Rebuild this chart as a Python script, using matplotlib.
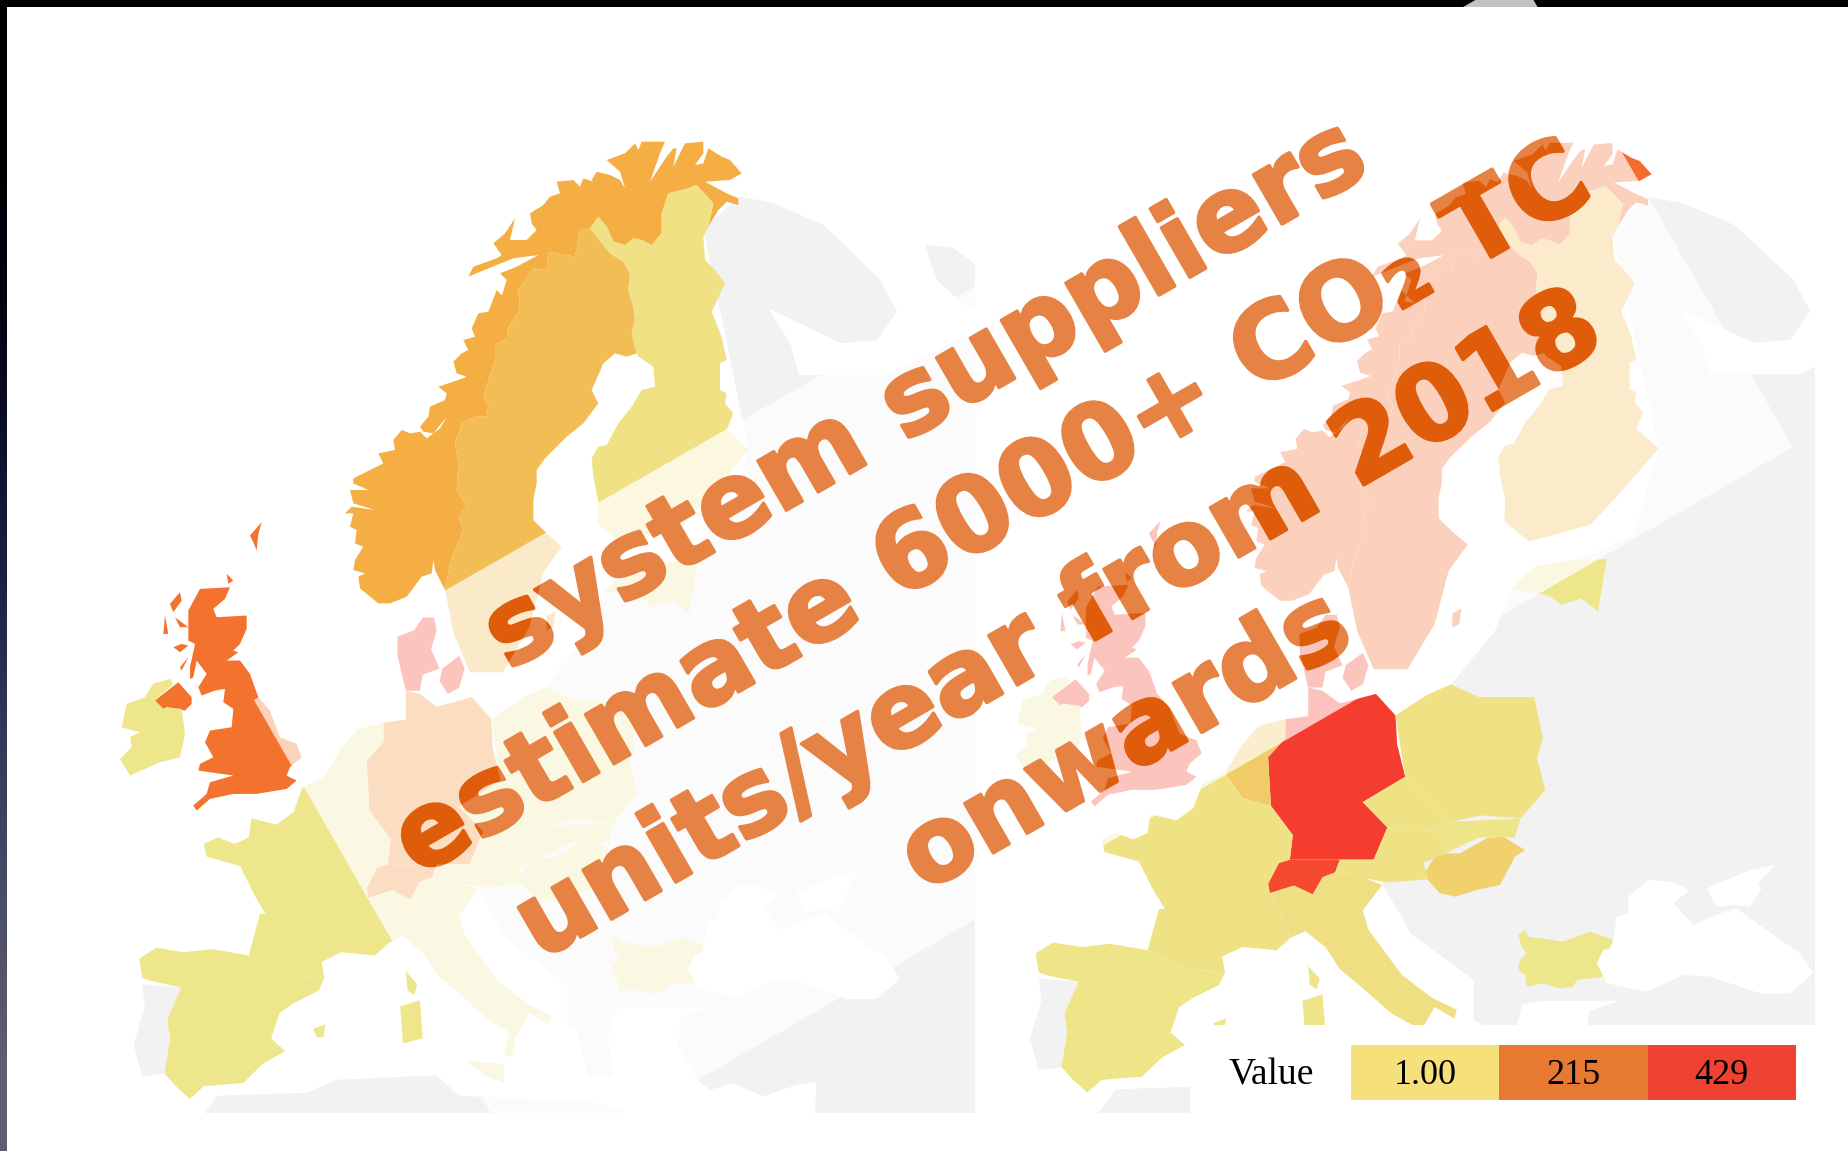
import numpy as np
import matplotlib
matplotlib.use("Agg")
import matplotlib.pyplot as plt
import matplotlib.patheffects as pe
from matplotlib.colors import LinearSegmentedColormap, to_rgb
from matplotlib.patches import Polygon, PathPatch, Rectangle
from matplotlib.path import Path
from matplotlib.transforms import Affine2D


# outlines were traced on three enlarged views, these bring them to map units
def nordic(points):
    return [(427.7 + 0.594 * x, 15.7 + 0.5227 * y) for x, y in points]


def isles(points):
    return [(17.8 + 0.594 * x, 596.7 + 0.5227 * y) for x, y in points]


def balkan(points):
    return [(704.9 + 0.5809 * x, 1104.3 + 0.5268 * y) for x, y in points]


norway = nordic([(115,1420),(60,1375),(55,1340),(75,1330),(40,1320),(45,1290),(70,1250),(45,1240),(50,1200),(30,1190),(40,1150),(15,1150),(35,1130),(105,1140),(40,1120),(30,1080),(85,1080),(40,1060),(40,1045),(110,1010),(130,1000),(115,970),(165,960),(160,930),(185,900),(210,910),(240,905),(260,925),(300,895),(320,860),(280,910),(250,905),(240,890),(265,860),(270,830),(315,810),(320,790),(295,770),(355,750),(380,740),(350,730),(340,695),(365,670),(385,660),(370,630),(405,620),(395,595),(415,550),(445,545),(470,480),(510,520),(480,515),(500,450),(480,430),(530,410),(595,375),(520,385),(445,415),(385,440),(400,410),(470,385),(485,375),(460,340),(495,310),(525,265),(510,330),(560,330),(590,300),(575,280),(570,250),(610,225),(630,200),(660,190),(650,155),(700,150),(720,170),(730,145),(760,155),(790,195),(755,150),(770,125),(810,135),(840,150),(855,175),(840,125),(800,90),(855,70),(885,40),(895,60),(905,35),(975,35),(960,70),(930,155),(980,80),(1000,55),(1010,55),(1000,110),(1035,40),(1090,35),(1090,70),(1065,105),(1090,100),(1105,55),(1145,80),(1170,90),(1205,130),(1170,150),(1095,155),(1160,190),(1195,205),(1195,225),(1160,215),(1135,240),(1105,290),(1120,220),(1070,165),(1045,175),(985,190),(965,250),(965,310),(935,345),(905,330),(880,325),(855,345),(820,335),(800,290),(775,260),(750,295),(720,300),(705,380),(625,365),(620,420),(580,415),(535,480),(540,540),(505,590),(500,625),(465,645),(465,690),(430,800),(445,830),(440,860),(405,860),(365,880),(345,940),(355,1000),(350,1080),(380,1130),(355,1160),(370,1200),(340,1270),(330,1300),(315,1380),(285,1320),(280,1290),(275,1330),(245,1340),(200,1400),(150,1420)])
sweden = nordic([(720,300),(750,295),(810,370),(850,395),(870,430),(865,480),(880,530),(885,570),(875,610),(890,670),(860,680),(825,670),(790,700),(775,735),(755,780),(775,820),(730,880),(680,920),(640,960),(615,985),(590,1020),(590,1060),(580,1110),(580,1170),(620,1210)]) + [(823,669),(790,710),(765,795),(718,866),(659,866),(630,805)] + nordic([(315,1380),(330,1300),(340,1270),(370,1200),(355,1160),(380,1130),(350,1080),(355,1000),(345,940),(365,880),(405,860),(440,860),(445,830),(430,800),(465,690),(465,645),(500,625),(505,590),(540,540),(535,480),(580,415),(620,420),(625,365),(705,380)])
gotland = [(796,778),(812,770),(808,795),(796,800)]
finland = nordic([(750,295),(775,260),(800,290),(820,335),(855,345),(880,325),(905,330),(935,345),(965,310),(965,250),(985,190),(1045,175),(1070,165),(1120,220),(1105,290),(1090,320),(1095,390),(1125,420),(1155,460),(1115,545),(1145,620),(1160,690),(1140,700),(1140,780),(1160,790),(1155,820),(1180,850),(1160,900)]) + [(1156,517),(1084,592),(1036,638),(930,664),(887,633)] + nordic([(775,1115),(760,1040),(755,985),(775,950),(800,945),(835,880),(875,830),(905,780),(945,770),(940,710),(895,680),(890,670),(875,610),(885,570),(880,530),(865,480),(870,430),(850,395),(810,370)])
denmark = [(530,810),(560,800),(575,780),(595,780),(600,800),(590,830),(605,860),(575,870),(570,895),(545,895),(530,840)]
zealand = [(610,860),(640,840),(650,860),(640,890),(620,900),(605,880)]
germany = [(545,895),(570,900),(600,920),(663,905),(697,939),(700,985),(714,1036),(640,1076),(683,1116),(659,1167),(513,1167),(518,1128),(480,1082),(475,1005),(505,975),(505,945),(545,940)]
switzerland = [(513,1167),(600,1167),(592,1187),(570,1195),(553,1222),(520,1208),(478,1220),(475,1205),(494,1172)]
benelux = [(400,1030),(430,985),(460,955),(505,945),(505,975),(475,1005),(480,1082),(430,1070)]
france = [(185,1135),(210,1125),(240,1135),(265,1125),(270,1095),(315,1105),(345,1085),(360,1048),(400,1030),(430,1070),(480,1082),(518,1128),(513,1167),(494,1172),(475,1205),(478,1220),(515,1290),(490,1310),(430,1305),(395,1320),(400,1345),(330,1340),(265,1310),(285,1245),(295,1245),(275,1215),(250,1170),(190,1155)]
spain = [(70,1315),(100,1298),(150,1305),(200,1300),(265,1310),(330,1340),(400,1345),(390,1365),(345,1385),(320,1400),(305,1440),(330,1460),(290,1480),(255,1510),(185,1515),(160,1535),(135,1515),(115,1495),(125,1440),(120,1410),(145,1360),(90,1350),(75,1345)]
majorca = [(380,1425),(402,1418),(398,1438),(386,1438)]
corsica = [(545,1335),(565,1355),(560,1372),(548,1365)]
sardinia = [(535,1390),(570,1380),(575,1440),(540,1448)]
sicily = [(650,1475),(720,1480),(720,1510),(690,1500)]
italy = [(553,1222),(570,1195),(592,1187),(640,1195),(674,1207),(640,1247),(650,1278),(708,1349),(760,1385),(804,1404),(800,1418),(765,1400),(740,1440),(735,1470),(720,1465),(730,1430),(690,1410),(640,1370),(600,1340),(575,1305),(540,1280),(515,1290),(478,1220),(520,1208)]
poland = [(697,939),(755,905),(794,890),(842,910),(939,910),(954,976),(944,1006),(958,1057),(915,1102),(845,1097),(794,1107),(714,1036)]
czechia = [(640,1076),(714,1036),(794,1107),(770,1122),(683,1116)]
slovakia = [(794,1107),(915,1102),(905,1132),(842,1132),(784,1157),(770,1122)]
hungary = balkan([(70,165),(110,100),(180,100),(260,55),(310,50),(375,90),(345,110),(300,195),(230,210),(165,230),(120,220)])
austria = [(659,1167),(683,1116),(770,1122),(784,1157),(746,1172),(755,1198),(680,1203),(592,1187),(600,1167)]
bulgaria = balkan([(355,345),(375,330),(385,350),(490,365),(570,335),(640,360),(630,385),(610,390),(590,430),(610,470),(530,480),(520,500),(480,505),(430,490),(380,500),(375,465),(355,450),(360,420),(380,400),(365,380)])
latvia = [(900,739),(939,704),(997,694),(1065,692),(1050,774),(1021,754),(987,764),(963,749)]
britain = isles([(270,265),(360,260),(345,295),(310,325),(320,350),(410,345),(410,385),(390,430),(370,450),(385,455),(350,480),(390,480),(420,520),(445,590),(480,630),(510,710),(560,730),(575,770),(540,800),(530,825),(560,840),(530,865),(440,880),(370,880),(300,895),(260,930),(250,915),(290,880),(300,845),(370,825),(265,810),(270,790),(310,770),(285,725),(300,690),(365,680),(370,625),(340,605),(345,565),(315,570),(275,585),(265,560),(290,520),(260,480),(250,530),(240,535),(240,500),(255,430),(235,420),(235,330)])
skye = isles([(195,350),(235,380),(210,380)])
harris = isles([(180,310),(210,275),(215,300),(190,335)])
uist = isles([(165,345),(175,400),(160,400)])
mull = isles([(215,430),(235,435),(210,455),(190,440)])
kintyre = isles([(210,500),(235,470),(215,510)])
shetland = isles([(420,105),(455,65),(445,100),(440,150),(430,125)])
orkney = isles([(350,220),(370,240),(355,250)])
n_ireland = isles([(135,600),(205,545),(245,590),(245,610),(225,630),(170,620),(160,625)])
ireland = isles([(105,590),(130,550),(180,535),(190,550),(135,600),(160,625),(170,620),(215,625),(225,700),(210,770),(150,785),(60,825),(30,775),(65,740),(60,710),(90,695),(35,680),(50,610)])

grey_land = [
    [(1075,170),(1140,120),(1200,130),(1290,165),(1390,250),(1420,300),(1385,345),(1320,350),(1250,320),(1190,295),(1230,350),(1245,400),(1400,400),(1540,340),(1700,340),(1700,1600),(1271,1600),(1277,1509),(1241,1513),(1182,1531),(1129,1510),(1087,1521),(1069,1508),(1031,1453),(1034,1406),(1087,1390),(1034,1390),(956,1390),(918,1395),(905,1440),(915,1500),(870,1500),(850,1428),(833,1420),(833,1357),(763,1310),(722,1283),(705,1252),(674,1207),(794,1100),(794,890),(871,805),(900,739),(1113,653),(1156,517)],
    [(1470,195),(1520,200),(1580,240),(1700,250),(1700,330),(1620,330),(1540,290),(1490,250)],
    [(75,1355),(145,1360),(120,1410),(125,1440),(115,1495),(75,1500),(60,1450),(80,1390)],
    [(150,1600),(210,1530),(370,1525),(420,1505),(600,1498),(640,1530),(760,1535),(880,1540),(940,1557),(940,1600)],
]
black_sea = balkan([(640,360),(650,290),(685,280),(685,230),(745,180),(810,185),(870,210),(820,250),(880,315),(960,280),(1010,265),(1050,295),(1200,400),(1240,460),(1170,520),(1080,520),(930,470),(850,465),(740,515),(620,490),(590,430),(610,390)])
azov = balkan([(920,205),(1050,150),(1125,135),(1075,190),(1085,205),(1050,260),(1000,255),(950,260)])

# country shapes and the value each map gives them
shapes = [norway, sweden, gotland, finland, denmark, zealand, germany, switzerland, benelux,
          france, spain, majorca, corsica, sardinia, sicily, italy, poland, czechia, slovakia,
          hungary, austria, bulgaria, latvia, britain, skye, harris, uist, mull, kintyre,
          shetland, orkney, n_ireland, ireland]
left_values = [100, 75, 75, 10, 400, 400, 150, 150, 1,
               1, 1, 1, 1, 1, 1, 5, 1, 1, 1,
               1, 1, 1, 1, 235, 235, 235, 235, 235, 235,
               235, 235, 235, 1]
right_values = [250, 250, 250, 70, 400, 400, 429, 380, 50,
                8, 3, 3, 3, 3, 8, 12, 10, 8, 3,
                40, 8, 1, 1, 400, 400, 400, 400, 400, 400,
                400, 400, 400, 1]

legend_labels = ["1.00", "215", "429"]
legend_colors = ["#F5E07C", "#E77932", "#EE4333"]
edge_colors = ["#000000", "#010108", "#0A0B24", "#1E2043", "#36375A", "#4C4D68", "#5E5F70"]

caption = "system suppliers\nestimate 6000+ CO₂ TC\nunits/year from 2018\nonwards"

color_stops = [(0.0, "#EEE68A"), (100 / 429, "#F5AE42"), (235 / 429, "#F3722E"), (1.0, "#F43D2F")]
cmap = LinearSegmentedColormap.from_list("value", color_stops)

fig = plt.figure(figsize=(18.49, 11.51), dpi=100)
ax = fig.add_axes([0, 0, 1, 1])

left_map = Affine2D().scale(1 / 1.782, 1 / 1.568).translate(100, 120)
right_map = Affine2D().scale(1 / 1.7427, 1 / 1.5805).translate(995.5, 121.3)
left_clip = [(118, 140), (975, 140), (975, 1113), (118, 1113)]
right_clip = [(1010, 140), (1815, 140), (1815, 1025), (1190, 1025), (1190, 1113), (1010, 1113)]


def draw_map(tf, values, clip):
    clip_patch = Polygon(clip, transform=ax.transData)
    for land in grey_land:
        p = Polygon(land, facecolor="#F2F2F2", edgecolor="none", transform=tf + ax.transData, zorder=1)
        ax.add_patch(p)
        p.set_clip_path(clip_patch)
    for sea in [black_sea, azov]:
        p = Polygon(sea, facecolor="white", edgecolor="none", transform=tf + ax.transData, zorder=1.5)
        ax.add_patch(p)
        p.set_clip_path(clip_patch)
    for shape, v in zip(shapes, values):
        p = Polygon(shape, facecolor=cmap(v / 429), edgecolor="none", transform=tf + ax.transData, zorder=2)
        ax.add_patch(p)
        p.set_clip_path(clip_patch)


draw_map(left_map, left_values, left_clip)
draw_map(right_map, right_values, right_clip)

# screen edges
ax.add_patch(Rectangle((0, 0), 1849, 6.5, facecolor="black", edgecolor="none", zorder=3))
edge = np.array([[to_rgb(c)] for c in edge_colors])
ax.imshow(edge, extent=(0, 6.5, 1151, 0), aspect="auto", interpolation="bilinear", zorder=3)
ax.set_xlim(0, 1849)
ax.set_ylim(1151, 0)
ax.axis("off")

# text box lying over both maps
box = [(254, 700), (1519, -25), (1793, 447), (528, 1178)]
ax.add_patch(Polygon(box, facecolor="white", edgecolor="none", alpha=0.69, zorder=4))
ax.text(1026, 570, caption, color="#DE5C0A", fontsize=75, fontweight="bold", family="DejaVu Sans",
        rotation=30, rotation_mode="anchor", ha="center", va="center", multialignment="center",
        linespacing=1.41, zorder=5,
        path_effects=[pe.withStroke(linewidth=2.5, foreground="#DE5C0A")])


def ring(points, clockwise):
    pts = np.asarray(points, dtype=float)
    x, y = pts[:, 0], pts[:, 1]
    area = np.sum(x * np.roll(y, -1) - np.roll(x, -1) * y)
    if (area > 0) != clockwise:
        pts = pts[::-1]
    return Path(np.vstack([pts, pts[:1]]), closed=True)


# text reads lighter where it lies over plain background than over coloured land
rings = [ring(box, False)]
for tf, values in [(left_map, left_values), (right_map, right_values)]:
    for shape, v in zip(shapes, values):
        if v >= 50:
            rings.append(ring(tf.transform(shape), True))
mask = PathPatch(Path.make_compound_path(*rings), facecolor="white", edgecolor="none", alpha=0.24, zorder=6)
ax.add_patch(mask)
mask.set_clip_path(Polygon(box, transform=ax.transData))

# legend
bar_x = [1351, 1499.3, 1647.6]
for x0, col, lab in zip(bar_x, legend_colors, legend_labels):
    ax.add_patch(Rectangle((x0, 1045), 148.3, 55, facecolor=col, edgecolor="none", zorder=7))
    ax.text(x0 + 74, 1075, lab, color="black", fontsize=26, family="Liberation Serif", ha="center", va="center", zorder=8)
ax.text(1271, 1075, "Value", color="black", fontsize=27, family="Liberation Serif", ha="center", va="center", zorder=8)

fig.savefig("out.png", dpi=100)
